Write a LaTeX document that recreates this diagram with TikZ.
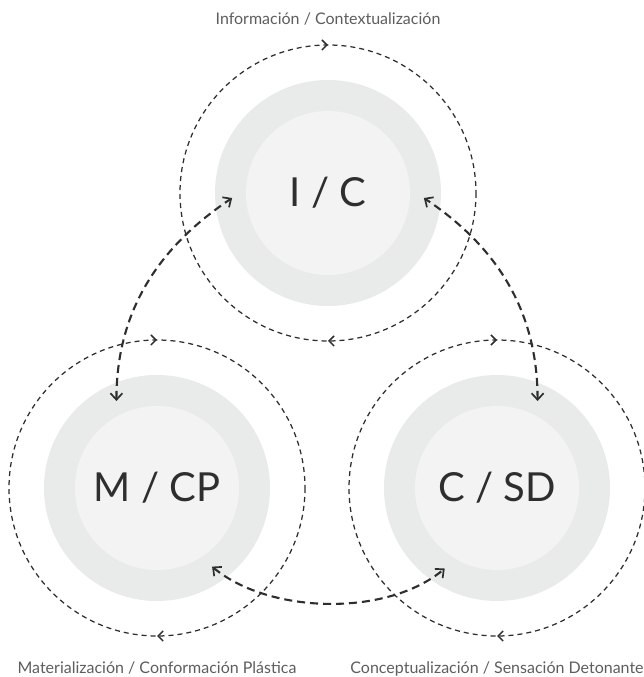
\documentclass[tikz,border=0pt]{standalone}
\usepackage{fontspec}
\setmainfont{Lato}
\usetikzlibrary{arrows.meta,decorations.markings,calc}
\definecolor{ringgray}{HTML}{E9EAEA}
\definecolor{coregray}{HTML}{F3F3F3}
\definecolor{ink}{HTML}{2E2E2E}
\definecolor{capgray}{HTML}{5E5E5E}
\begin{document}
\begin{tikzpicture}[x=1pt,y=1pt,
  ring/.style={circle, fill=ringgray, minimum size=226pt, inner sep=0pt},
  core/.style={circle, fill=coregray, minimum size=164pt, inner sep=0pt,
    font=\fontsize{40}{48}\selectfont, text=ink},
  cyclemark/.tip={Straight Barb[length=5pt,width=10pt,line width=1.5pt]},
  cyclepath/.style={draw=ink, line width=1.25pt, dash pattern=on 5pt off 4pt,
    postaction={decorate},
    decoration={markings,
      mark=at position 0.25 with {\arrow{cyclemark}},
      mark=at position 0.75 with {\arrow{cyclemark}}}},
  linktip/.tip={Straight Barb[length=6.5pt,width=12pt,line width=1.7pt]},
  link/.style={draw=ink, line width=2.1pt, dash pattern=on 8pt off 5pt,
    {linktip}-{linktip}},
  caption/.style={font=\fontsize{16}{19}\selectfont, text=capgray, anchor=base}
]
\useasboundingbox (0,0) rectangle (644,677);
\fill[white] (0,0) rectangle (644,677);

% the three stages: grey ring with a lighter core
\node[ring] (tcring) at (328,484) {};
\node[ring] (blring) at (157,189) {};
\node[ring] (brring) at (497,189) {};
\node[core] (tc) at (328,484) {I / C};
\node[core] (bl) at (157,189) {M / CP};
\node[core] (br) at (497,189) {C / SD};

% clockwise dashed cycle around each stage
\foreach \c in {tc,bl,br}
  \draw[cyclepath] (\c) ++(0:148) arc[start angle=0, end angle=-360, radius=148];

% end points of the links between stages
\coordinate (tcL) at ($(tc)+(183:96)$);
\coordinate (tcR) at ($(tc)+(357:96)$);
\coordinate (blT) at ($(bl)+(115:96)$);
\coordinate (blR) at ($(bl)+(-55:96)$);
\coordinate (brT) at ($(br)+(65:96)$);
\coordinate (brL) at ($(br)+(-123:96)$);

\draw[link] (blT) .. controls +(0,100) and +(-63,-42) .. (tcL);
\draw[link] (brT) .. controls +(0,100) and +(63,-42) .. (tcR);
\draw[link] (blR) .. controls +(58,-48) and +(-57,-48) .. (brL);

% captions
\node[caption] (tccap) at (328,652) {Información / Contextualización};
\node[caption] (blcap) at (157,4) {Materialización / Conformación Plástica};
\node[caption] (brcap) at (497,4) {Conceptualización / Sensación Detonante};
\end{tikzpicture}
\end{document}
